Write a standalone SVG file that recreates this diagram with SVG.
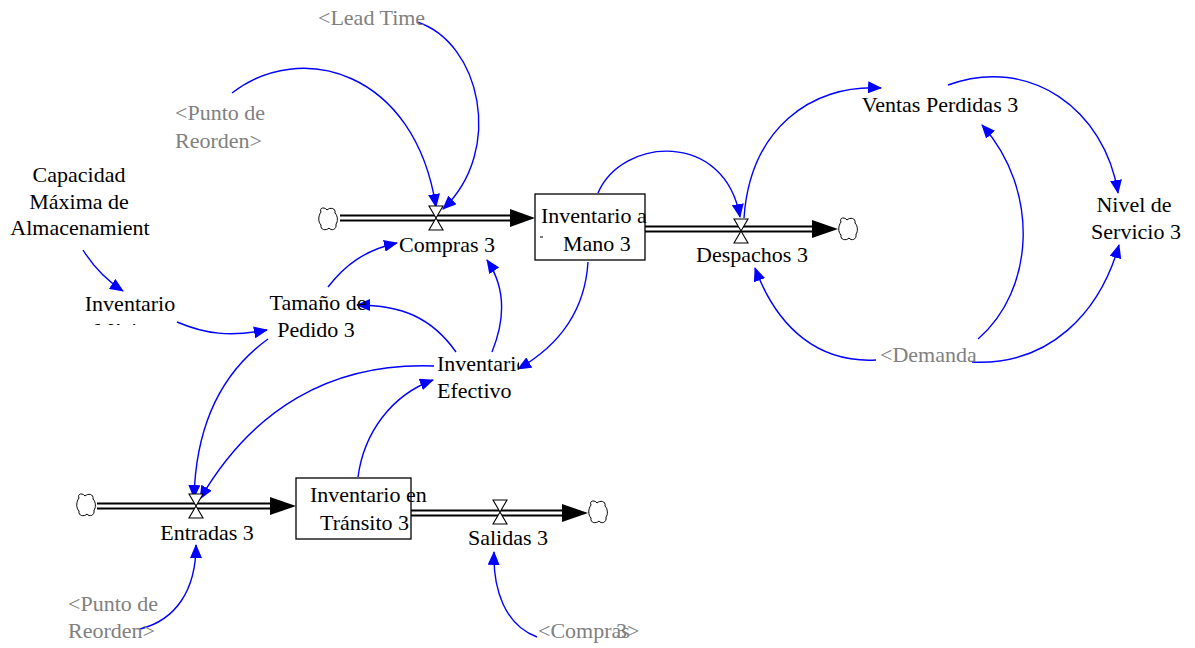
<svg xmlns="http://www.w3.org/2000/svg" width="1195" height="648" viewBox="0 0 1195 648">
  <style>
    text { font-family: 'Liberation Serif', 'DejaVu Serif', serif; font-size: 22px; }
    .t { fill: #000; }
    .g { fill: #808080; }
    .mid { text-anchor: middle; }
    .link { fill: none; stroke: #0000ff; stroke-width: 1.4; marker-end: url(#ab); }
    .pipeOuter { stroke: #000; stroke-width: 7; fill: none; }
    .pipeInner { stroke: #fff; stroke-width: 3; fill: none; }
    .box { fill: #fff; stroke: #000; stroke-width: 1.3; }
    .valve { fill: #fff; stroke: #000; stroke-width: 1.1; }
    .cloud { fill: #fff; stroke: #000; stroke-width: 1; }
  </style>
  <defs>
    <marker id="ab" viewBox="0 0 14 12" refX="13" refY="6" markerWidth="14" markerHeight="12" markerUnits="userSpaceOnUse" orient="auto">
      <path d="M0,0 L14,6 L0,12 Z" fill="#0000ff"/>
    </marker>
    <path id="cloudShape" class="cloud" d="M-7,-7 C-9,-12 -3,-12 -1,-9 C2,-12 8,-11 7,-6 C10,-3 10,3 8,5 C9,11 3,12 1,9 C-2,12 -8,11 -7,6 C-10,3 -10,-3 -7,-7 Z"/>
    <path id="valveShape" class="valve" d="M-7,-12 L7,-12 L0,0 Z M0,0 L7,12 L-7,12 Z"/>
    <clipPath id="clipMin"><rect x="70" y="290" width="120" height="35"/></clipPath>
    <clipPath id="clipEf"><rect x="430" y="345" width="89" height="66"/></clipPath>
  </defs>

  <!-- material flows -->
  <g id="flows">
    <!-- Compras 3 pipe -->
    <line class="pipeOuter" x1="340" y1="218" x2="512" y2="218"/>
    <line class="pipeInner" x1="338" y1="218" x2="514" y2="218"/>
    <path d="M510,209 L535,218 L510,227 Z" fill="#000"/>
    <!-- Despachos 3 pipe -->
    <line class="pipeOuter" x1="645" y1="229" x2="814" y2="229"/>
    <line class="pipeInner" x1="645" y1="229" x2="816" y2="229"/>
    <path d="M812,220 L838,229 L812,238 Z" fill="#000"/>
    <!-- Entradas 3 pipe -->
    <line class="pipeOuter" x1="97" y1="506" x2="272" y2="506"/>
    <line class="pipeInner" x1="95" y1="506" x2="274" y2="506"/>
    <path d="M270,497 L296,506 L270,515 Z" fill="#000"/>
    <!-- Salidas 3 pipe -->
    <line class="pipeOuter" x1="411" y1="513" x2="564" y2="513"/>
    <line class="pipeInner" x1="411" y1="513" x2="566" y2="513"/>
    <path d="M562,504 L588,513 L562,522 Z" fill="#000"/>
  </g>

  <!-- sources and sinks -->
  <g id="clouds">
    <use href="#cloudShape" x="328" y="219"/>
    <use href="#cloudShape" x="848" y="229"/>
    <use href="#cloudShape" x="86" y="505"/>
    <use href="#cloudShape" x="598" y="512"/>
  </g>

  <!-- information links -->
  <g id="connectors">
    <path class="link" d="M417,22 C480,42 505,150 443,209"/>
    <path class="link" d="M232,93 C300,40 415,70 436,207"/>
    <path class="link" d="M328,287 C345,265 365,250 397,243"/>
    <path class="link" d="M492,352 C505,320 506,288 487,260"/>
    <path class="link" d="M456,352 C432,318 402,305 357,305"/>
    <path class="link" d="M177,322 C205,334 230,337 267,330"/>
    <path class="link" d="M83,250 C93,266 106,280 123,291"/>
    <path class="link" d="M268,339 C225,370 196,420 194,498"/>
    <path class="link" d="M434,366 C330,362 252,410 200,499"/>
    <path class="link" d="M358,477 C364,432 392,395 433,380"/>
    <path class="link" d="M588,262 C585,310 560,345 518,369"/>
    <path class="link" d="M598,193 C622,137 725,130 740,217"/>
    <path class="link" d="M744,218 C750,130 810,84 881,88"/>
    <path class="link" d="M948,85 C1030,55 1105,110 1118,193"/>
    <path class="link" d="M978,339 C1035,290 1040,190 982,125"/>
    <path class="link" d="M876,360 C820,363 778,330 755,268"/>
    <path class="link" d="M972,362 C1050,366 1100,312 1119,245"/>
    <path class="link" d="M140,629 C176,620 196,590 196,545"/>
    <path class="link" d="M537,637 C505,625 493,590 494,552"/>
  </g>

  <!-- valves -->
  <g id="valve-compras"><use href="#valveShape" x="436" y="218"/></g>
  <g id="valve-despachos"><use href="#valveShape" x="741" y="231"/></g>
  <g id="valve-entradas"><use href="#valveShape" x="196" y="506"/></g>
  <g id="valve-salidas"><use href="#valveShape" x="500" y="512"/></g>

  <!-- stocks -->
  <g id="inventario-a-mano">
    <rect class="box" x="535" y="194" width="110" height="66"/>
    <text class="t" x="541" y="223">Inventario a</text>
    <line x1="540" y1="237" x2="543" y2="237" stroke="#000" stroke-width="1"/>
    <text class="t" x="563" y="251">Mano 3</text>
  </g>
  <g id="inventario-en-transito">
    <rect class="box" x="296" y="478" width="115" height="61"/>
    <text class="t" x="310" y="502">Inventario en</text>
    <text class="t" x="320" y="530">Tránsito 3</text>
  </g>

  <!-- flow labels -->
  <g id="compras"><text class="t mid" x="447" y="252">Compras 3</text></g>
  <g id="despachos"><text class="t mid" x="752" y="262">Despachos 3</text></g>
  <g id="entradas"><text class="t mid" x="207" y="540">Entradas 3</text></g>
  <g id="salidas"><text class="t mid" x="508" y="545">Salidas 3</text></g>

  <!-- auxiliaries -->
  <g id="capacidad">
    <text class="t mid" x="79" y="182">Capacidad</text>
    <text class="t mid" x="79" y="209">Máxima de</text>
    <text class="t mid" x="80" y="235">Almacenamient</text>
  </g>
  <g id="inventario-minimo" clip-path="url(#clipMin)">
    <text class="t mid" x="130" y="311">Inventario</text>
    <text class="t mid" x="130" y="338">Mínimo</text>
  </g>
  <g id="tamano-pedido">
    <text class="t mid" x="318" y="310">Tamaño de</text>
    <text class="t mid" x="316" y="337">Pedido 3</text>
  </g>
  <g id="inventario-efectivo" clip-path="url(#clipEf)">
    <text class="t" x="437" y="371">Inventario</text>
    <text class="t" x="437" y="398">Efectivo</text>
    <text class="t" x="437" y="425">3</text>
  </g>
  <g id="ventas-perdidas"><text class="t mid" x="940" y="112">Ventas Perdidas 3</text></g>
  <g id="nivel-servicio">
    <text class="t mid" x="1134" y="212">Nivel de</text>
    <text class="t mid" x="1136" y="239">Servicio 3</text>
  </g>

  <!-- shadow variables -->
  <g id="lead-time"><text class="g" x="318" y="25">&lt;Lead Time</text></g>
  <g id="punto-reorden-top">
    <text class="g" x="175" y="120">&lt;Punto de</text>
    <text class="g" x="175" y="148">Reorden&gt;</text>
  </g>
  <g id="demanda"><text class="g" x="880" y="362">&lt;Demanda</text></g>
  <g id="punto-reorden-bottom">
    <text class="g" x="68" y="611">&lt;Punto de</text>
    <text class="g" x="68" y="638">Reorden&gt;</text>
  </g>
  <g id="compras-shadow">
    <text class="g" x="538" y="638">&lt;Compras<tspan x="616">3&gt;</tspan></text>
  </g>
</svg>
